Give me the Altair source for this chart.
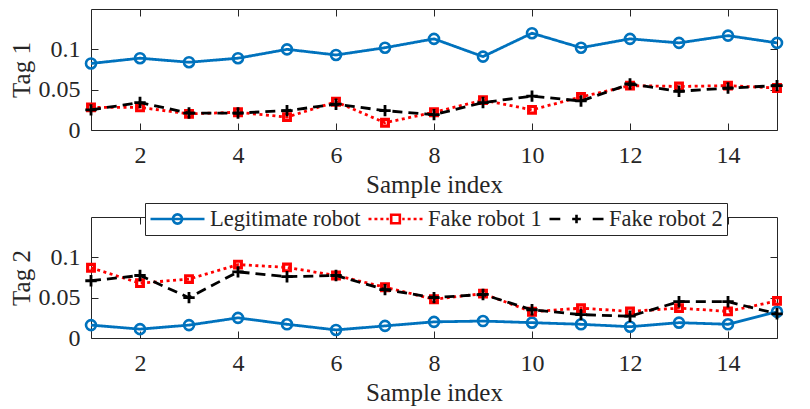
import altair as alt
import pandas as pd

# ---------------- data ----------------
sample_index = list(range(1, 16))
series_names = ["Legitimate robot", "Fake robot 1", "Fake robot 2"]

tag1_legit = [0.0825, 0.089, 0.084, 0.089, 0.100, 0.093, 0.102, 0.113, 0.091, 0.120, 0.102, 0.113, 0.108, 0.117, 0.108]
tag1_fake1 = [0.028, 0.028, 0.020, 0.022, 0.016, 0.035, 0.009, 0.022, 0.037, 0.025, 0.041, 0.055, 0.054, 0.055, 0.052]
tag1_fake2 = [0.025, 0.034, 0.021, 0.021, 0.024, 0.032, 0.024, 0.019, 0.034, 0.042, 0.036, 0.057, 0.048, 0.052, 0.055]

tag2_legit = [0.016, 0.011, 0.016, 0.025, 0.017, 0.010, 0.015, 0.020, 0.021, 0.019, 0.017, 0.014, 0.019, 0.017, 0.0325]
tag2_fake1 = [0.087, 0.068, 0.073, 0.091, 0.0875, 0.0775, 0.063, 0.048, 0.055, 0.0325, 0.037, 0.033, 0.037, 0.033, 0.046]
tag2_fake2 = [0.071, 0.0775, 0.050, 0.082, 0.076, 0.0775, 0.060, 0.050, 0.054, 0.035, 0.029, 0.027, 0.045, 0.045, 0.030]

x_ticks = [2, 4, 6, 8, 10, 12, 14]
y_ticks = [0, 0.05, 0.1]

# ---------------- styles ----------------
FONT = "Liberation Serif"
TEXT = "#262626"
colors = ["#0072BD", "#FF0000", "#000000"]
dashes = [[1, 0], [3, 3.5], [10, 6]]
marker_shapes = ["circle", "square", "M-1,0H1M0,-1V1"]
marker_sizes = [100, 45, 130]
marker_strokes = [2.6, 3.2, 2.8]

legend_paths = [
    "M-1,0H1M0.17,0A0.17,0.17,0,1,1,-0.17,0A0.17,0.17,0,1,1,0.17,0",
    "M-1,0H-0.89M-0.78,0H-0.67M-0.56,0H-0.45M-0.34,0H-0.25"
    "M0.25,0H0.34M0.45,0H0.56M0.67,0H0.78M0.89,0H1"
    "M-0.16,-0.16H0.16V0.16H-0.16Z",
    "M-1,0H-0.6M-0.16,0H0.16M0,-0.16V0.16M0.6,0H1",
]


def frame(values):
    rows = []
    for name, vals in zip(series_names, values):
        for i, v in zip(sample_index, vals):
            rows.append({"idx": i, "val": v, "series": name})
    return pd.DataFrame(rows)


x_scale = alt.Scale(domain=[1, 15], nice=False, zero=False)
y_scale = alt.Scale(domain=[0, 0.15], nice=False)
TICK_LEN = 7
common_tick = dict(domain=False, grid=False, offset=-TICK_LEN, tickSize=TICK_LEN,
                   tickColor=TEXT, tickWidth=1)


def x_axis_bottom():
    return alt.Axis(values=x_ticks, title="Sample index",
                    labelPadding=13, labelFont=FONT, labelFontSize=24, labelColor=TEXT,
                    titleFont=FONT, titleFontSize=25, titleFontWeight="normal",
                    titleColor=TEXT, titleBaseline="alphabetic", titleY=69,
                    **common_tick)


def x_axis_top():
    return alt.Axis(orient="top", values=x_ticks, title=None, labels=False, **common_tick)


def y_axis_left(title):
    return alt.Axis(values=y_ticks, format="~g", title=title,
                    labelPadding=11, labelFont=FONT, labelFontSize=24, labelColor=TEXT,
                    titleFont=FONT, titleFontSize=25, titleFontWeight="normal",
                    titleColor=TEXT, titleBaseline="alphabetic", titleX=-69,
                    **common_tick)


def y_axis_right():
    return alt.Axis(orient="right", values=y_ticks, title=None, labels=False, **common_tick)


def panel(values, ytitle, with_legend):
    df = frame(values)
    base = alt.Chart(df)
    layers = []
    for k, name in enumerate(series_names):
        if k == 0:
            xa, ya = x_axis_bottom(), y_axis_left(ytitle)
        elif k == 1:
            xa, ya = x_axis_top(), y_axis_right()
        else:
            xa, ya = None, None
        layers.append(
            base.transform_filter(alt.datum.series == name)
            .mark_line(color=colors[k], strokeWidth=2.8, strokeDash=dashes[k])
            .encode(x=alt.X("idx:Q", scale=x_scale, axis=xa),
                    y=alt.Y("val:Q", scale=y_scale, axis=ya))
        )
        layers.append(
            base.transform_filter(alt.datum.series == name)
            .mark_point(shape=marker_shapes[k], size=marker_sizes[k], filled=False,
                        stroke=colors[k], strokeWidth=marker_strokes[k], opacity=1)
            .encode(x=alt.X("idx:Q", scale=x_scale, axis=None),
                    y=alt.Y("val:Q", scale=y_scale, axis=None))
        )
    if with_legend:
        leg = alt.Legend(title=None, orient="none", legendX=54, legendY=-14,
                         direction="horizontal")
        layers.append(
            base.transform_filter(alt.datum.idx == 1)
            .mark_point(filled=False, opacity=0)
            .encode(
                x=alt.X("idx:Q", scale=x_scale, axis=None),
                y=alt.Y("val:Q", scale=y_scale, axis=None),
                color=alt.Color("series:N", scale=alt.Scale(domain=series_names, range=colors),
                                legend=leg),
                shape=alt.Shape("series:N", scale=alt.Scale(domain=series_names, range=legend_paths),
                                legend=leg),
            )
        )
    return alt.layer(*layers).resolve_axis(x="independent", y="independent").properties(
        width=686, height=121)


top = panel([tag1_legit, tag1_fake1, tag1_fake2], "Tag 1", False)
bottom = panel([tag2_legit, tag2_fake1, tag2_fake2], "Tag 2", True)

chart = (
    alt.vconcat(top, bottom, spacing=4)
    .resolve_scale(color="independent", shape="independent")
    .resolve_legend(color="independent", shape="independent")
    .properties(padding=0)
    .configure(font=FONT)
    .configure_view(stroke=TEXT, strokeWidth=1)
    .configure_legend(
        symbolSize=2916, symbolStrokeWidth=2.6, symbolOpacity=1, symbolFillColor="transparent",
        labelFont=FONT, labelFontSize=22.5, labelColor=TEXT, labelOffset=4, labelLimit=400,
        columnPadding=6, padding=4, strokeColor=TEXT, fillColor="white", clipHeight=24,
    )
)

chart.save("out.html", embed_options={"renderer": "svg", "actions": False})
